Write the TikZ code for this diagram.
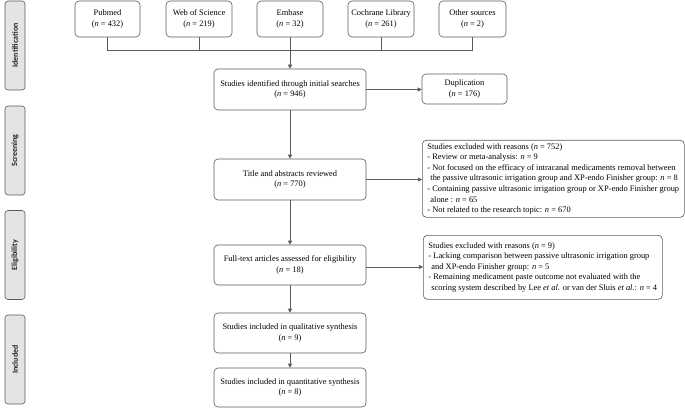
\documentclass[tikz,border=0pt]{standalone}
\usepackage{fontspec}
\setmainfont{Liberation Serif}
\newfontfamily\sidefont{Carlito}
\usetikzlibrary{arrows.meta}
\tikzset{
  box/.style={draw=linegray, line width=0.6pt, rounded corners=4pt, align=center,
    inner sep=1pt, font=\fontsize{8.4}{10.4}\selectfont},
  srcbox/.style={box, minimum width=66pt, minimum height=36pt},
  mainbox/.style={box, minimum width=152pt, minimum height=40pt},
  exbox/.style={draw=linegray, line width=0.6pt, rounded corners=4pt, align=left,
    inner xsep=1.5pt, inner ysep=2pt, font=\fontsize{8.4}{10.6}\selectfont},
  sidebox/.style={draw=linegray, fill=sidefill, line width=0.6pt, rounded corners=3pt,
    minimum width=20pt, minimum height=89pt, inner sep=0pt},
  sidelabel/.style={rotate=90, font=\sidefont\bfseries\fontsize{8}{9}\selectfont, text=black!85},
  conn/.style={draw=linegray, line width=0.6pt},
  arr/.style={conn, -{Triangle[length=4pt,width=4pt]}},
}
\definecolor{linegray}{HTML}{5A5A5A}
\definecolor{sidefill}{HTML}{E4E4E4}
\newcommand{\nn}{{\itshape n}}
\begin{document}
\begin{tikzpicture}[x=1pt,y=-1pt]
\useasboundingbox (0,0) rectangle (685,409);
% side bars
\node[sidebox] (sid) at (15,45.5) {};
\node[sidelabel] at (sid.center) {Identification};
\node[sidebox] (ssc) at (15,150.5) {};
\node[sidelabel] at (ssc.center) {Screening};
\node[sidebox] (sel) at (15,255) {};
\node[sidelabel] at (sel.center) {Eligibility};
\node[sidebox] (sin) at (15,359.5) {};
\node[sidelabel] at (sin.center) {Included};
% sources
\node[srcbox, minimum width=65pt] (pub) at (107.5,19) {Pubmed\\(\nn{} = 432)};
\node[srcbox] (wos) at (199,19) {Web of Science\\(\nn{} = 219)};
\node[srcbox] (emb) at (290,19) {Embase\\(\nn{} = 32)};
\node[srcbox] (coc) at (381,19) {Cochrane Library\\(\nn{} = 261)};
\node[srcbox, minimum width=67pt] (oth) at (472.5,19) {Other sources\\(\nn{} = 2)};
\coordinate (busl) at (107.5,50);
\coordinate (busr) at (472.5,50);
\draw[conn] (pub.south) -- (busl) -- (busr) -- (oth.south);
\draw[conn] (wos.south) -- (wos.south |- busl);
\draw[conn] (coc.south) -- (coc.south |- busl);
% main column
\node[mainbox, minimum height=41pt] (ide) at (290,89.5) {Studies identified through initial searches\\(\nn{} = 946)};
\node[box, minimum width=85pt, minimum height=30pt] (dup) at (464.5,89) {Duplication\\(\nn{} = 176)};
\node[mainbox, minimum height=41pt] (tit) at (290,179.5) {Title and abstracts reviewed\\(\nn{} = 770)};
\node[mainbox] (ful) at (290,265) {Full-text articles assessed for eligibility\\(\nn{} = 18)};
\node[mainbox] (qua) at (290,333) {Studies included in qualitative synthesis\\(\nn{} = 9)};
\node[mainbox, minimum height=39pt] (qnt) at (290,387.5) {Studies included in quantitative synthesis\\(\nn{} = 8)};
\node[exbox, anchor=north west, minimum width=262pt, minimum height=77pt] (ex1) at (422,140) {Studies excluded with reasons (\nn{} = 752)\\
- Review or meta-analysis: \nn{} = 9\\
- Not focused on the efficacy of intracanal medicaments removal between\\
\hspace*{3pt}the passive ultrasonic irrigation group and XP-endo Finisher group: \nn{} = 8\\
- Containing passive ultrasonic irrigation group or XP-endo Finisher group\\
\hspace*{3pt}alone : \nn{} = 65\\
- Not related to the research topic: \nn{} = 670};
\node[exbox, anchor=north west, minimum width=239pt, minimum height=64pt] (ex2) at (423,235) {Studies excluded with reasons (\nn{} = 9)\\
- Lacking comparison between passive ultrasonic irrigation group\\
\hspace*{3pt}and XP-endo Finisher group: \nn{} = 5\\
- Remaining medicament paste outcome not evaluated with the\\
\hspace*{3pt}scoring system described by Lee \textit{et al.} or van der Sluis \textit{et al.}: \nn{} = 4};
% arrows
\draw[arr] (emb.south) -- (ide.north);
\draw[arr] (ide.south) -- (tit.north);
\draw[arr] (tit.south) -- (ful.north);
\draw[arr] (ful.south) -- (qua.north);
\draw[arr] (qua.south) -- (qnt.north);
\draw[arr] (ide.east) -- (ide.east -| dup.west);
\draw[arr] (tit.east) -- (tit.east -| ex1.west);
\draw[arr] (ful.east |- 0,267) -- (ex2.west |- 0,267);
\end{tikzpicture}
\end{document}
